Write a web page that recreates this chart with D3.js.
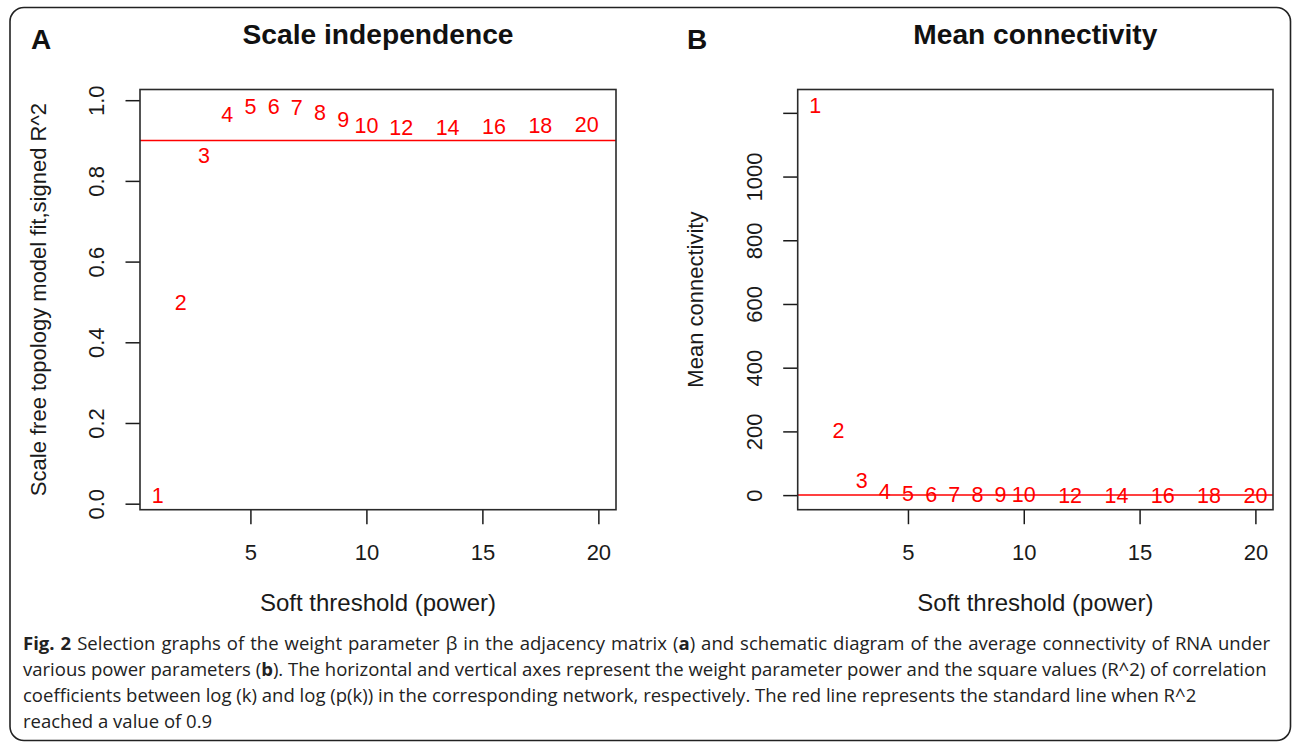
<!DOCTYPE html>
<html><head><meta charset="utf-8">
<script src="https://cdn.jsdelivr.net/npm/d3@7"></script>
<style>body{margin:0;background:#fff;} svg{display:block;}</style>
</head><body>
<svg id="c" width="1292" height="743"></svg>
<script>
// ---- data ----
const powers = [1,2,3,4,5,6,7,8,9,10,12,14,16,18,20];
const pointLabels = powers.map(String);
// panel A: horizontal position of each label as drawn (12..20 sit half a unit left)
const xPosA = [1,2,3,4,5,6,7,8,9,10,11.5,13.5,15.5,17.5,19.5];
const r2A = [0.020,0.500,0.864,0.966,0.985,0.985,0.983,0.969,0.953,0.939,0.934,0.934,0.935,0.939,0.940];
const meanK = [1224,205,48,13,6,3,2.5,2,1.5,1,0.4,0.3,0.2,0.1,0.1];
const xTicks = [5,10,15,20];
const xTickLabels = ["5","10","15","20"];
const yTicksA = [0,0.2,0.4,0.6,0.8,1.0];
const yTickLabelsA = ["0.0","0.2","0.4","0.6","0.8","1.0"];
const yTicksB = [0,200,400,600,800,1000,1200];
const yTickLabelsB = ["0","200","400","600","800","1000",""];
const cutA = 0.9, cutB = 0;
const titles = ["Scale independence","Mean connectivity"];
const panelLetters = ["A","B"];
const xTitle = "Soft threshold (power)";
const yTitles = ["Scale free topology model fit,signed R^2","Mean connectivity"];
const captionLines = [
  [["Fig. 2",true],[" Selection graphs of the weight parameter \u03b2 in the adjacency matrix (",false],["a",true],[") and schematic diagram of the average connectivity of RNA under",false]],
  [["various power parameters (",false],["b",true],["). The horizontal and vertical axes represent the weight parameter power and the square values (R^2) of correlation",false]],
  [["coefficients between log (k) and log (p(k)) in the corresponding network, respectively. The red line represents the standard line when R^2",false]],
  [["reached a value of 0.9",false]]
];

// ---- drawing ----
const svg = d3.select("#c");
const FONT = "'Liberation Sans', Arial, Helvetica, sans-serif";
const INK = "#1a1a1a";

svg.append("rect").attr("x",10).attr("y",7.5).attr("width",1280.5).attr("height",733)
  .attr("rx",14).attr("ry",14).attr("fill","none").attr("stroke","#222").attr("stroke-width",1.6);

const panels = [
  {x0:140, x1:616, y0:89.5, y1:509.7, yDom:[-0.0149,1.0265], xs:xPosA, ys:r2A,
   yTicks:yTicksA, yLab:yTickLabelsA, cut:cutA, letterX:31, titleW:271},
  {x0:797.7, x1:1273, y0:89.5, y1:509.7, yDom:[-45.8,1273.3], xs:powers, ys:meanK,
   yTicks:yTicksB, yLab:yTickLabelsB, cut:cutB, letterX:687, titleW:244}
];

panels.forEach((p,i)=>{
  const x = d3.scaleLinear().domain([0.24,20.76]).range([p.x0,p.x1]);
  const y = d3.scaleLinear().domain(p.yDom).range([p.y1,p.y0]);
  const g = svg.append("g");

  // y axis
  const ya = g.append("g").attr("transform",`translate(${p.x0},0)`)
    .call(d3.axisLeft(y).tickValues(p.yTicks).tickSize(14.5).tickFormat((d,k)=>p.yLab[k]));
  ya.select(".domain").remove();
  ya.selectAll(".tick line").attr("stroke",INK).attr("stroke-width",1.5);
  ya.selectAll(".tick text").attr("x",null).attr("dy",null)
    .attr("transform","translate(-35.6,0) rotate(-90)")
    .attr("text-anchor","middle").attr("font-family",FONT).attr("font-size",22).attr("fill",INK);

  // x axis
  const xa = g.append("g").attr("transform",`translate(0,${p.y1})`)
    .call(d3.axisBottom(x).tickValues(xTicks).tickSize(14.5).tickFormat((d,k)=>xTickLabels[k]));
  xa.select(".domain").remove();
  xa.selectAll(".tick line").attr("stroke",INK).attr("stroke-width",1.5);
  xa.selectAll(".tick text").attr("y",50).attr("dy",null)
    .attr("font-family",FONT).attr("font-size",22).attr("fill",INK);

  // reference line
  g.append("line").attr("x1",p.x0).attr("x2",p.x1).attr("y1",y(p.cut)).attr("y2",y(p.cut))
    .attr("stroke","#ff0000").attr("stroke-width",1.5);

  // point labels
  g.selectAll("text.pt").data(pointLabels).join("text").attr("class","pt")
    .attr("x",(d,k)=>x(p.xs[k])).attr("y",(d,k)=>y(p.ys[k])+7.7)
    .attr("text-anchor","middle").attr("font-family",FONT).attr("font-size",21.5)
    .attr("fill","#ff0000").text(d=>d);

  // box
  g.append("rect").attr("x",p.x0).attr("y",p.y0).attr("width",p.x1-p.x0).attr("height",p.y1-p.y0)
    .attr("fill","none").attr("stroke","#2a2a2a").attr("stroke-width",1.6);

  // titles
  const cx = (p.x0+p.x1)/2;
  g.append("text").attr("x",cx).attr("y",44).attr("text-anchor","middle")
    .attr("font-family",FONT).attr("font-weight","bold").attr("font-size",27).attr("fill","#111")
    .attr("textLength",p.titleW).attr("lengthAdjust","spacingAndGlyphs")
    .text(titles[i]);
  g.append("text").attr("x",p.letterX).attr("y",48.5)
    .attr("font-family",FONT).attr("font-weight","bold").attr("font-size",28).attr("fill","#111")
    .text(panelLetters[i]);
  g.append("text").attr("x",cx).attr("y",611).attr("text-anchor","middle")
    .attr("font-family",FONT).attr("font-size",24).attr("fill",INK).text(xTitle);
  g.append("text").attr("transform",`translate(${p.x0-94.5},${(p.y0+p.y1)/2}) rotate(-90)`)
    .attr("text-anchor","middle").attr("font-family",FONT).attr("font-size",22).attr("fill",INK)
    .text(yTitles[i]);
});

// caption: natural text, first two lines justified to the measured width
const capX = 23;
const capY = [649.5, 676, 702, 728];
const justifyW = [1247, 1244, null, null];
const cap = svg.append("g").attr("font-family","'Open Sans', 'Noto Sans', sans-serif").attr("fill","#222");
const capTexts = captionLines.map((line,k)=>{
  const t = cap.append("text").attr("x",capX).attr("y",capY[k]).attr("font-size",18);
  line.forEach(([s,b])=>t.append("tspan").attr("font-weight",b?"bold":"normal").text(s));
  return t;
});
// size the font so the second line fits its width without extra spacing
const w2 = capTexts[1].node().getComputedTextLength();
const capFs = 18*justifyW[1]/w2;
capTexts.forEach(t=>t.attr("font-size",capFs));
capTexts.forEach((t,k)=>{
  if(!justifyW[k]) return;
  const w = t.node().getComputedTextLength();
  const spaces = captionLines[k].map(d=>d[0]).join("").split(" ").length-1;
  const extra = (justifyW[k]-w)/spaces;
  if(extra>0.05) t.attr("word-spacing",extra);
});
</script>
</body></html>
